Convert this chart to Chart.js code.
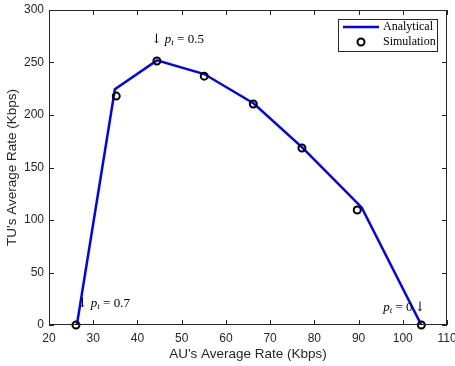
<!DOCTYPE html>
<html>
<head>
<meta charset="utf-8">
<script src="https://cdn.jsdelivr.net/npm/chart.js@4.4.1/dist/chart.umd.min.js"></script>
<style>
  html, body { margin: 0; padding: 0; background: #fff; }
  #wrap { width: 455px; height: 366px; position: relative; }
</style>
</head>
<body>
<div id="wrap"><canvas id="c"></canvas></div>
<script>
// analytical curve (AU rate, TU rate)
const analyticX = [26.3, 34.9, 44.4, 55.1, 66.3, 77.3, 90.7, 104.2];
const analyticY = [0, 224.5, 252, 239, 211, 169, 112, 0];
// simulation points
const simX = [26.1, 35.2, 44.4, 55.1, 66.2, 77.2, 89.7, 104.2];
const simY = [0, 218, 251.4, 237, 210.5, 168.6, 109.5, 0];

const xTicks = [20, 30, 40, 50, 60, 70, 80, 90, 100, 110];
const yTicks = [0, 50, 100, 150, 200, 250, 300];

// annotations: value of p_t and the simulation point it marks
const notes = [
    { val: '0.7', idx: 0, side: 'left' },
    { val: '0.5', idx: 2, side: 'top' },
    { val: '0', idx: 7, side: 'right' }
];

const serif = '"Liberation Serif", "DejaVu Serif", serif';
const sans = '"Liberation Sans", Arial, sans-serif';
const axisColor = '#262626';

// draws "↓ p_t = v" or "p_t = v ↓"
function drawNote(ctx, x, y, val, arrowFirst, alignRight) {
    const parts = [];
    if (arrowFirst) parts.push({ t: '↓', f: '13px "DejaVu Serif", serif', dy: 0, gap: 3 });
    parts.push({ t: 'p', f: 'italic 13px ' + serif, dy: 0, gap: 0 });
    parts.push({ t: 't', f: 'italic 9px ' + serif, dy: 2, gap: 0 });
    parts.push({ t: ' = ' + val, f: '13px ' + serif, dy: 0, gap: 2 });
    if (!arrowFirst) parts.push({ t: '↓', f: '13px "DejaVu Serif", serif', dy: 0, gap: 0 });
    let w = 0;
    parts.forEach(p => { ctx.font = p.f; p.w = ctx.measureText(p.t).width + p.gap; w += p.w; });
    let cx = alignRight ? x - w : x;
    ctx.fillStyle = '#000';
    ctx.textAlign = 'left';
    ctx.textBaseline = 'alphabetic';
    parts.forEach(p => {
        ctx.font = p.f;
        ctx.fillText(p.t, cx, y + p.dy);
        cx += p.w;
    });
}

const matlabFrame = {
    id: 'matlabFrame',
    afterDatasetsDraw(chart) {
        const ctx = chart.ctx;
        const a = chart.chartArea;
        const xs = chart.scales.x, ys = chart.scales.y;
        ctx.save();
        ctx.strokeStyle = axisColor;
        ctx.lineWidth = 1;
        ctx.strokeRect(a.left + 0.5, a.top + 0.5, a.right - a.left - 1, a.bottom - a.top - 1);
        ctx.beginPath();
        xTicks.forEach(v => {
            const px = Math.round(xs.getPixelForValue(v)) + 0.5;
            ctx.moveTo(px, a.bottom); ctx.lineTo(px, a.bottom - 5);
            ctx.moveTo(px, a.top); ctx.lineTo(px, a.top + 5);
        });
        yTicks.forEach(v => {
            const py = Math.round(ys.getPixelForValue(v)) + 0.5;
            ctx.moveTo(a.left, py); ctx.lineTo(a.left + 5, py);
            ctx.moveTo(a.right, py); ctx.lineTo(a.right - 5, py);
        });
        ctx.stroke();

        // annotations
        notes.forEach(n => {
            const px = xs.getPixelForValue(simX[n.idx]);
            const py = ys.getPixelForValue(simY[n.idx]);
            if (n.side === 'left') drawNote(ctx, px + 1, py - 18, n.val, true, false);
            if (n.side === 'top') drawNote(ctx, px - 6, py - 18, n.val, true, false);
            if (n.side === 'right') drawNote(ctx, px + 4, py - 14, n.val, false, true);
        });

        // legend
        const lx = a.right - 109, ly = a.top + 9, lw = 99, lh = 32;
        ctx.fillStyle = '#fff';
        ctx.fillRect(lx, ly, lw, lh);
        ctx.strokeStyle = axisColor;
        ctx.lineWidth = 1;
        ctx.strokeRect(lx + 0.5, ly + 0.5, lw, lh);
        ctx.strokeStyle = '#0000ff';
        ctx.lineWidth = 2.5;
        ctx.beginPath();
        ctx.moveTo(lx + 5, ly + 8); ctx.lineTo(lx + 41, ly + 8);
        ctx.stroke();
        ctx.strokeStyle = '#000';
        ctx.lineWidth = 2;
        ctx.beginPath();
        ctx.arc(lx + 23, ly + 23, 3.5, 0, Math.PI * 2);
        ctx.stroke();
        ctx.fillStyle = '#000';
        ctx.font = '12px ' + serif;
        ctx.textBaseline = 'middle';
        ctx.fillText('Analytical', lx + 45, ly + 8);
        ctx.fillText('Simulation', lx + 45, ly + 23);
        ctx.restore();
    }
};

new Chart(document.getElementById('c'), {
    type: 'scatter',
    data: {
        datasets: [
            {
                label: 'Analytical',
                data: analyticX.map((x, i) => ({ x: x, y: analyticY[i] })),
                showLine: true,
                borderColor: '#0000ff',
                borderWidth: 2.5,
                pointRadius: 0,
                tension: 0,
                order: 2
            },
            {
                label: 'Simulation',
                data: simX.map((x, i) => ({ x: x, y: simY[i] })),
                showLine: false,
                borderColor: '#000',
                backgroundColor: 'rgba(0,0,0,0)',
                pointRadius: 3.5,
                pointBorderWidth: 2,
                clip: false,
                order: 1
            }
        ]
    },
    options: {
        responsive: true,
        maintainAspectRatio: false,
        animation: false,
        layout: { padding: { top: 10, right: 8, left: 0, bottom: 0 } },
        plugins: { legend: { display: false }, tooltip: { enabled: false } },
        scales: {
            x: {
                type: 'linear',
                min: 20, max: 110,
                afterBuildTicks: s => { s.ticks = xTicks.map(v => ({ value: v })); },
                afterFit: s => { s.height = 41; s.paddingLeft = 0; s.paddingRight = 0; },
                grid: { display: false, drawTicks: false, tickLength: 0 },
                border: { display: false },
                ticks: { color: axisColor, font: { family: sans, size: 12 }, padding: 6, maxRotation: 0 },
                title: { display: true, text: "AU's Average Rate (Kbps)", color: axisColor, font: { family: sans, size: 13.5 }, padding: { top: 5 } }
            },
            y: {
                type: 'linear',
                min: 0, max: 300,
                afterBuildTicks: s => { s.ticks = yTicks.map(v => ({ value: v })); },
                afterFit: s => { s.width = 49; s.paddingTop = 0; s.paddingBottom = 0; },
                grid: { display: false, drawTicks: false, tickLength: 0 },
                border: { display: false },
                ticks: { color: axisColor, font: { family: sans, size: 12 }, padding: 5 },
                title: { display: true, text: "TU's Average Rate (Kbps)", color: axisColor, font: { family: sans, size: 13.5 }, padding: { top: 4, bottom: 2 } }
            }
        }
    },
    plugins: [matlabFrame]
});
</script>
</body>
</html>
